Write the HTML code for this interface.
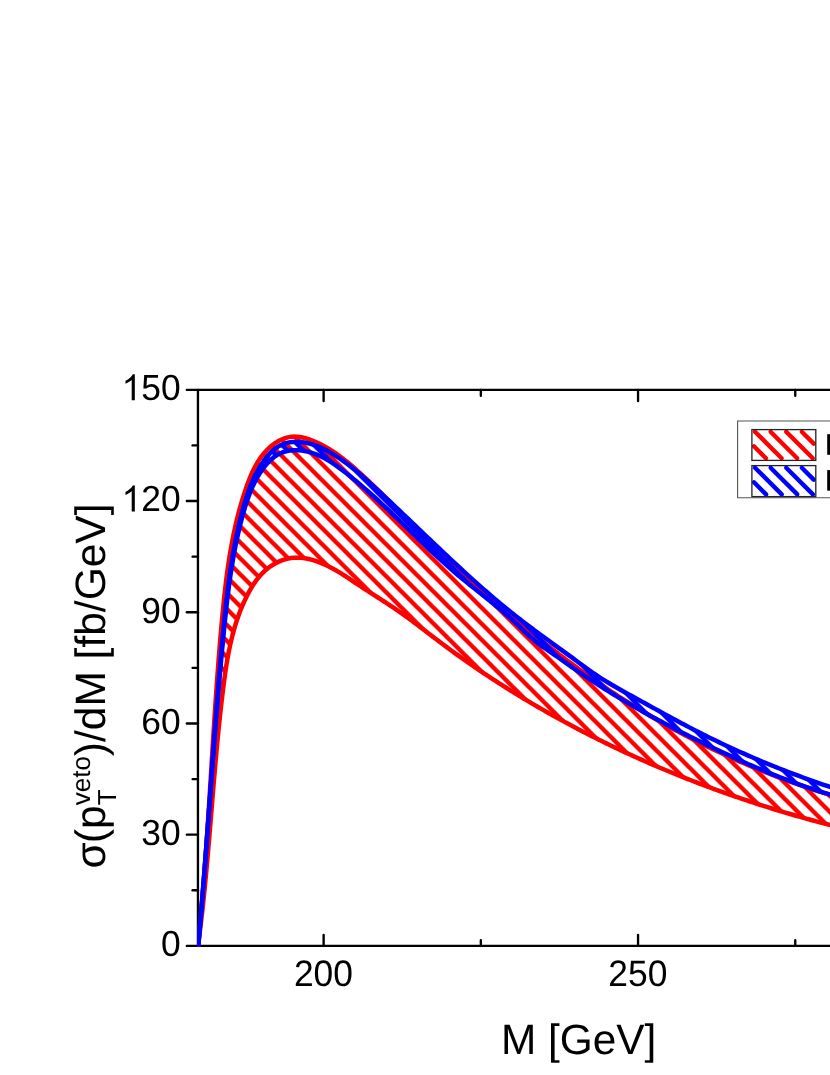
<!DOCTYPE html>
<html><head><meta charset="utf-8"><title>chart</title>
<style>html,body{margin:0;padding:0;background:#fff}body{width:830px;height:1075px;overflow:hidden;position:relative;font-family:"Liberation Sans",sans-serif}</style>
</head><body>
<svg width="830" height="1075" viewBox="0 0 830 1075" style="position:absolute;left:0;top:0;will-change:transform;font-family:'Liberation Sans',sans-serif;font-kerning:none;text-rendering:geometricPrecision">
<defs>
<pattern id="hr" patternUnits="userSpaceOnUse" width="16" height="16" patternTransform="translate(1.90,0)"><path d="M-16,-16 L32,32 M0,-16 L48,32 M-16,0 L32,48 M-32,-16 L16,32" stroke="#ff0000" stroke-width="4.35" fill="none"/></pattern>
<pattern id="hb" patternUnits="userSpaceOnUse" width="16" height="16" patternTransform="translate(-3.10,0)"><path d="M-16,-16 L32,32 M0,-16 L48,32 M-16,0 L32,48 M-32,-16 L16,32" stroke="#0000ff" stroke-width="4.35" fill="none"/></pattern>
<clipPath id="plot"><rect x="197.1" y="380" width="640" height="566.75"/></clipPath>
</defs>
<rect width="830" height="1075" fill="#fff"/>
<g stroke="#000" stroke-width="2.35" stroke-linecap="round" fill="none">
<path d="M197.95,389.85 V945.85 M197.95,389.85 H840 M197.95,945.85 H840"/>
<path d="M186.85,945.90 H197.95"/>
<path d="M186.85,834.68 H197.95"/>
<path d="M186.85,723.46 H197.95"/>
<path d="M186.85,612.24 H197.95"/>
<path d="M186.85,501.02 H197.95"/>
<path d="M186.85,389.80 H197.95"/>
<path d="M192.6,890.29 H197.95"/>
<path d="M192.6,779.07 H197.95"/>
<path d="M192.6,667.85 H197.95"/>
<path d="M192.6,556.63 H197.95"/>
<path d="M192.6,445.41 H197.95"/>
<path d="M323.63,945.85 V934.8 M323.63,389.85 V401.0"/>
<path d="M638.05,945.85 V934.8 M638.05,389.85 V401.0"/>
<path d="M480.84,945.85 V940.2 M480.84,389.85 V395.7"/>
<path d="M795.26,945.85 V940.2 M795.26,389.85 V395.7"/>
</g>
<g clip-path="url(#plot)">
<path d="M197.86,946.36 L198.18,943.34 L198.49,940.31 L198.79,937.28 L199.09,934.25 L199.39,931.22 L199.68,928.18 L199.97,925.15 L200.26,922.12 L200.54,919.09 L200.81,916.06 L201.09,913.02 L201.36,909.99 L201.62,906.96 L201.89,903.92 L202.15,900.89 L202.40,897.85 L202.66,894.82 L202.91,891.78 L203.15,888.75 L203.40,885.71 L203.64,882.67 L203.88,879.64 L204.11,876.60 L204.35,873.56 L204.58,870.52 L204.80,867.49 L205.03,864.45 L205.25,861.41 L205.47,858.37 L205.69,855.33 L205.91,852.29 L206.12,849.25 L206.34,846.21 L206.55,843.17 L206.76,840.13 L206.96,837.09 L207.17,834.05 L207.37,831.01 L207.57,827.97 L207.77,824.93 L207.97,821.89 L208.17,818.85 L208.37,815.81 L208.56,812.77 L208.76,809.72 L208.95,806.68 L209.14,803.64 L209.34,800.60 L209.53,797.56 L209.72,794.51 L209.91,791.47 L210.10,788.43 L210.29,785.39 L210.47,782.35 L210.66,779.30 L210.85,776.26 L211.04,773.22 L211.23,770.18 L211.41,767.13 L211.60,764.09 L211.79,761.05 L211.98,758.01 L212.17,754.97 L212.35,751.92 L212.54,748.88 L212.73,745.84 L212.92,742.80 L213.11,739.75 L213.31,736.71 L213.50,733.67 L213.69,730.63 L213.89,727.59 L214.08,724.55 L214.28,721.50 L214.48,718.46 L214.67,715.42 L214.88,712.38 L215.08,709.34 L215.28,706.30 L215.49,703.26 L215.69,700.22 L215.90,697.18 L216.11,694.14 L216.32,691.10 L216.54,688.06 L216.75,685.02 L216.97,681.98 L217.19,678.94 L217.41,675.90 L217.64,672.86 L217.87,669.82 L218.10,666.79 L218.33,663.75 L218.56,660.71 L218.80,657.67 L219.04,654.64 L219.29,651.60 L219.53,648.56 L219.78,645.53 L220.03,642.49 L220.29,639.46 L220.55,636.42 L220.81,633.39 L221.08,630.35 L221.35,627.32 L221.62,624.28 L221.90,621.25 L222.18,618.22 L222.46,615.18 L222.75,612.15 L223.04,609.12 L223.34,606.09 L223.65,603.06 L223.96,600.03 L224.28,597.00 L224.60,593.98 L224.94,590.95 L225.28,587.93 L225.64,584.91 L226.00,581.88 L226.37,578.87 L226.76,575.85 L227.16,572.83 L227.57,569.82 L227.99,566.81 L228.43,563.80 L228.88,560.79 L229.35,557.79 L229.83,554.79 L230.33,551.79 L230.85,548.80 L231.38,545.80 L231.93,542.81 L232.50,539.83 L233.09,536.84 L233.69,533.87 L234.32,530.89 L234.97,527.92 L235.64,524.95 L236.33,521.98 L237.05,519.02 L237.79,516.07 L238.55,513.12 L239.33,510.17 L240.14,507.23 L240.98,504.29 L241.84,501.35 L242.73,498.42 L243.65,495.50 L244.59,492.58 L245.57,489.67 L246.57,486.76 L247.61,483.86 L248.68,480.97 L249.80,478.11 L250.98,475.27 L252.22,472.46 L253.52,469.69 L254.90,466.97 L256.36,464.30 L257.92,461.69 L259.57,459.14 L261.32,456.66 L263.19,454.26 L265.17,451.94 L267.28,449.71 L269.51,447.58 L271.86,445.57 L274.31,443.71 L276.86,442.02 L279.49,440.52 L282.20,439.23 L284.97,438.17 L287.80,437.37 L290.68,436.84 L293.59,436.62 L296.53,436.67 L299.49,436.98 L302.44,437.52 L305.39,438.25 L308.33,439.15 L311.23,440.18 L314.09,441.32 L316.91,442.55 L319.68,443.85 L322.41,445.23 L325.09,446.69 L327.73,448.21 L330.34,449.79 L332.90,451.44 L335.44,453.14 L337.94,454.90 L340.40,456.70 L342.84,458.55 L345.25,460.43 L347.64,462.36 L350.00,464.32 L352.33,466.30 L354.65,468.31 L356.95,470.34 L359.23,472.39 L361.50,474.45 L363.75,476.53 L365.99,478.61 L368.22,480.71 L370.43,482.81 L372.64,484.92 L374.83,487.04 L377.02,489.17 L379.19,491.31 L381.36,493.45 L383.52,495.60 L385.67,497.76 L387.81,499.92 L389.95,502.08 L392.08,504.25 L394.21,506.42 L396.34,508.60 L398.46,510.78 L400.57,512.96 L402.69,515.14 L404.81,517.32 L406.92,519.50 L409.03,521.68 L411.15,523.86 L413.27,526.04 L415.38,528.22 L417.50,530.40 L419.63,532.57 L421.76,534.74 L423.89,536.90 L426.02,539.06 L428.17,541.21 L430.32,543.36 L432.47,545.50 L434.64,547.64 L436.81,549.77 L438.99,551.89 L441.18,554.00 L443.38,556.11 L445.59,558.21 L447.80,560.30 L450.02,562.38 L452.25,564.46 L454.48,566.53 L456.72,568.60 L458.97,570.66 L461.22,572.71 L463.48,574.76 L465.75,576.81 L468.02,578.84 L470.30,580.87 L472.58,582.90 L474.87,584.92 L477.16,586.94 L479.45,588.95 L481.75,590.96 L484.05,592.96 L486.36,594.96 L488.67,596.95 L490.99,598.94 L493.30,600.93 L495.62,602.91 L497.95,604.89 L500.27,606.86 L502.60,608.84 L504.93,610.80 L507.26,612.77 L509.60,614.72 L511.94,616.68 L514.29,618.63 L516.63,620.58 L518.98,622.52 L521.34,624.45 L523.69,626.38 L526.06,628.31 L528.42,630.23 L530.79,632.15 L533.16,634.06 L535.54,635.97 L537.92,637.87 L540.30,639.76 L542.69,641.65 L545.08,643.53 L547.48,645.41 L549.88,647.28 L552.29,649.14 L554.70,651.00 L557.11,652.85 L559.53,654.70 L561.95,656.54 L564.38,658.37 L566.82,660.20 L569.26,662.02 L571.70,663.83 L574.15,665.63 L576.60,667.43 L579.06,669.22 L581.53,671.00 L584.00,672.78 L586.47,674.54 L588.96,676.30 L591.44,678.05 L593.93,679.80 L596.43,681.53 L598.94,683.26 L601.45,684.98 L603.96,686.69 L606.49,688.39 L609.02,690.08 L611.55,691.77 L614.09,693.44 L616.64,695.11 L619.19,696.77 L621.75,698.41 L624.32,700.05 L626.89,701.68 L629.47,703.30 L632.06,704.92 L634.65,706.52 L637.25,708.11 L639.85,709.69 L642.46,711.27 L645.08,712.83 L647.70,714.39 L650.33,715.94 L652.96,717.47 L655.60,719.00 L658.24,720.52 L660.89,722.03 L663.55,723.53 L666.21,725.02 L668.88,726.50 L671.55,727.97 L674.23,729.43 L676.91,730.88 L679.60,732.33 L682.29,733.76 L684.99,735.18 L687.69,736.59 L690.40,738.00 L693.12,739.39 L695.84,740.78 L698.56,742.15 L701.29,743.51 L704.02,744.87 L706.76,746.21 L709.51,747.55 L712.25,748.87 L715.01,750.19 L717.76,751.49 L720.53,752.79 L723.29,754.07 L726.06,755.35 L728.84,756.61 L731.62,757.87 L734.41,759.11 L737.19,760.35 L739.99,761.57 L742.78,762.78 L745.59,763.99 L748.39,765.18 L751.20,766.37 L754.01,767.54 L756.83,768.70 L759.65,769.86 L762.48,771.00 L765.31,772.13 L768.14,773.25 L770.98,774.36 L773.82,775.46 L776.66,776.55 L779.51,777.63 L782.36,778.70 L785.22,779.76 L788.07,780.81 L790.94,781.85 L793.80,782.87 L796.67,783.89 L799.54,784.90 L802.42,785.89 L805.29,786.87 L808.17,787.85 L811.06,788.81 L813.95,789.76 L816.84,790.70 L819.73,791.63 L822.62,792.55 L825.52,793.46 L828.42,794.36 L831.33,795.25 L834.24,796.12 L837.15,796.99 L840.06,797.84 L842.97,798.68 L845.89,799.52 L848.81,800.34 L851.73,801.15 L854.65,801.94 L849.98,829.99 L847.44,829.38 L844.90,828.76 L842.37,828.13 L839.83,827.50 L837.30,826.86 L834.76,826.22 L832.23,825.57 L829.70,824.92 L827.17,824.26 L824.64,823.60 L822.11,822.93 L819.58,822.26 L817.06,821.58 L814.53,820.90 L812.01,820.21 L809.49,819.52 L806.97,818.82 L804.45,818.12 L801.93,817.41 L799.41,816.69 L796.90,815.97 L794.39,815.25 L791.87,814.52 L789.36,813.78 L786.85,813.04 L784.34,812.30 L781.84,811.55 L779.33,810.79 L776.83,810.03 L774.33,809.26 L771.82,808.49 L769.33,807.71 L766.83,806.93 L764.33,806.14 L761.84,805.35 L759.34,804.55 L756.85,803.75 L754.36,802.94 L751.88,802.12 L749.39,801.31 L746.91,800.48 L744.42,799.65 L741.94,798.81 L739.46,797.97 L736.99,797.13 L734.51,796.28 L732.04,795.42 L729.56,794.56 L727.09,793.69 L724.63,792.82 L722.16,791.94 L719.69,791.05 L717.23,790.16 L714.77,789.27 L712.31,788.37 L709.86,787.46 L707.40,786.55 L704.95,785.64 L702.50,784.72 L700.05,783.79 L697.60,782.86 L695.16,781.92 L692.72,780.98 L690.28,780.03 L687.84,779.07 L685.40,778.11 L682.97,777.15 L680.54,776.18 L678.11,775.20 L675.68,774.22 L673.26,773.24 L670.84,772.24 L668.42,771.25 L666.00,770.24 L663.58,769.23 L661.17,768.22 L658.76,767.20 L656.35,766.17 L653.95,765.14 L651.54,764.11 L649.14,763.07 L646.74,762.02 L644.35,760.97 L641.95,759.91 L639.56,758.84 L637.17,757.77 L634.79,756.70 L632.40,755.62 L630.02,754.53 L627.65,753.44 L625.27,752.34 L622.90,751.24 L620.53,750.13 L618.16,749.02 L615.79,747.90 L613.43,746.78 L611.07,745.65 L608.72,744.51 L606.36,743.37 L604.01,742.22 L601.66,741.07 L599.32,739.91 L596.97,738.74 L594.63,737.57 L592.30,736.40 L589.96,735.22 L587.63,734.03 L585.30,732.84 L582.98,731.64 L580.66,730.44 L578.34,729.23 L576.02,728.01 L573.71,726.79 L571.40,725.57 L569.09,724.33 L566.79,723.10 L564.48,721.85 L562.19,720.60 L559.89,719.35 L557.60,718.09 L555.31,716.82 L553.03,715.55 L550.74,714.27 L548.47,712.99 L546.19,711.70 L543.92,710.40 L541.65,709.10 L539.38,707.80 L537.12,706.49 L534.86,705.17 L532.61,703.84 L530.35,702.51 L528.10,701.18 L525.86,699.84 L523.62,698.49 L521.38,697.14 L519.14,695.78 L516.91,694.42 L514.68,693.05 L512.46,691.67 L510.24,690.29 L508.02,688.90 L505.80,687.51 L503.59,686.11 L501.39,684.71 L499.18,683.30 L496.98,681.88 L494.79,680.46 L492.59,679.03 L490.41,677.59 L488.22,676.15 L486.04,674.71 L483.86,673.26 L481.69,671.80 L479.52,670.34 L477.35,668.87 L475.19,667.39 L473.03,665.91 L470.88,664.42 L468.72,662.93 L466.58,661.43 L464.43,659.93 L462.30,658.42 L460.16,656.90 L458.03,655.38 L455.90,653.85 L453.78,652.32 L451.66,650.78 L449.54,649.23 L447.43,647.68 L445.33,646.12 L443.22,644.56 L441.13,642.99 L439.03,641.41 L436.94,639.83 L434.85,638.25 L432.77,636.66 L430.68,635.06 L428.60,633.47 L426.52,631.88 L424.44,630.29 L422.36,628.70 L420.27,627.11 L418.19,625.53 L416.10,623.95 L414.01,622.38 L411.91,620.81 L409.81,619.26 L407.70,617.71 L405.59,616.17 L403.47,614.65 L401.35,613.13 L399.22,611.63 L397.08,610.15 L394.92,608.68 L392.77,607.22 L390.60,605.77 L388.43,604.34 L386.25,602.91 L384.07,601.49 L381.89,600.08 L379.70,598.67 L377.51,597.26 L375.31,595.86 L373.12,594.45 L370.93,593.04 L368.74,591.64 L366.55,590.22 L364.36,588.80 L362.18,587.37 L360.00,585.94 L357.83,584.49 L355.66,583.03 L353.49,581.57 L351.31,580.11 L349.14,578.65 L346.95,577.20 L344.75,575.76 L342.54,574.34 L340.30,572.94 L338.05,571.57 L335.77,570.23 L333.45,568.92 L331.11,567.65 L328.73,566.43 L326.31,565.25 L323.86,564.13 L321.38,563.08 L318.87,562.09 L316.34,561.18 L313.80,560.36 L311.24,559.63 L308.67,559.00 L306.10,558.48 L303.53,558.08 L300.96,557.80 L298.41,557.65 L295.86,557.63 L293.34,557.77 L290.83,558.05 L288.36,558.49 L285.91,559.07 L283.50,559.79 L281.12,560.64 L278.79,561.62 L276.50,562.73 L274.26,563.96 L272.07,565.30 L269.94,566.75 L267.87,568.30 L265.87,569.95 L263.93,571.70 L262.07,573.53 L260.28,575.45 L258.56,577.45 L256.93,579.52 L255.37,581.65 L253.87,583.84 L252.43,586.07 L251.05,588.35 L249.73,590.66 L248.45,592.99 L247.22,595.34 L246.03,597.71 L244.88,600.10 L243.77,602.50 L242.71,604.91 L241.68,607.34 L240.69,609.78 L239.74,612.23 L238.82,614.69 L237.94,617.16 L237.09,619.64 L236.27,622.12 L235.49,624.61 L234.73,627.11 L234.01,629.62 L233.31,632.13 L232.64,634.65 L232.00,637.18 L231.38,639.71 L230.79,642.24 L230.22,644.78 L229.67,647.33 L229.15,649.88 L228.64,652.44 L228.15,655.00 L227.69,657.56 L227.24,660.13 L226.80,662.70 L226.38,665.27 L225.98,667.85 L225.59,670.43 L225.21,673.01 L224.84,675.60 L224.49,678.19 L224.14,680.78 L223.80,683.37 L223.47,685.96 L223.14,688.55 L222.82,691.15 L222.50,693.74 L222.19,696.34 L221.88,698.93 L221.58,701.53 L221.28,704.13 L220.99,706.72 L220.70,709.32 L220.41,711.92 L220.13,714.52 L219.85,717.12 L219.57,719.72 L219.30,722.32 L219.03,724.92 L218.77,727.53 L218.51,730.13 L218.25,732.73 L217.99,735.34 L217.74,737.94 L217.49,740.55 L217.24,743.15 L217.00,745.76 L216.75,748.36 L216.51,750.97 L216.28,753.57 L216.04,756.18 L215.81,758.79 L215.58,761.40 L215.35,764.00 L215.12,766.61 L214.89,769.22 L214.67,771.83 L214.44,774.44 L214.22,777.05 L214.00,779.66 L213.78,782.26 L213.57,784.87 L213.35,787.48 L213.13,790.09 L212.92,792.70 L212.70,795.31 L212.49,797.92 L212.27,800.53 L212.06,803.14 L211.85,805.76 L211.64,808.37 L211.42,810.98 L211.21,813.59 L211.00,816.20 L210.78,818.81 L210.57,821.42 L210.36,824.03 L210.14,826.64 L209.93,829.25 L209.71,831.86 L209.49,834.47 L209.28,837.08 L209.06,839.69 L208.84,842.30 L208.62,844.91 L208.39,847.52 L208.17,850.12 L207.95,852.73 L207.72,855.34 L207.49,857.95 L207.26,860.56 L207.03,863.16 L206.79,865.77 L206.55,868.38 L206.32,870.99 L206.07,873.59 L205.83,876.20 L205.58,878.80 L205.33,881.41 L205.08,884.01 L204.83,886.62 L204.57,889.22 L204.31,891.83 L204.05,894.43 L203.78,897.03 L203.51,899.63 L203.23,902.23 L202.96,904.84 L202.67,907.44 L202.39,910.04 L202.10,912.63 L201.81,915.23 L201.51,917.83 L201.21,920.43 L200.90,923.03 L200.59,925.62 L200.28,928.22 L199.96,930.81 L199.64,933.41 L199.31,936.00 L198.98,938.59 L198.64,941.19 L198.29,943.78 L197.95,946.37 Z" fill="url(#hr)"/>
<path d="M197.86,946.36 L198.18,943.34 L198.49,940.31 L198.79,937.28 L199.09,934.25 L199.39,931.22 L199.68,928.18 L199.97,925.15 L200.26,922.12 L200.54,919.09 L200.81,916.06 L201.09,913.02 L201.36,909.99 L201.62,906.96 L201.89,903.92 L202.15,900.89 L202.40,897.85 L202.66,894.82 L202.91,891.78 L203.15,888.75 L203.40,885.71 L203.64,882.67 L203.88,879.64 L204.11,876.60 L204.35,873.56 L204.58,870.52 L204.80,867.49 L205.03,864.45 L205.25,861.41 L205.47,858.37 L205.69,855.33 L205.91,852.29 L206.12,849.25 L206.34,846.21 L206.55,843.17 L206.76,840.13 L206.96,837.09 L207.17,834.05 L207.37,831.01 L207.57,827.97 L207.77,824.93 L207.97,821.89 L208.17,818.85 L208.37,815.81 L208.56,812.77 L208.76,809.72 L208.95,806.68 L209.14,803.64 L209.34,800.60 L209.53,797.56 L209.72,794.51 L209.91,791.47 L210.10,788.43 L210.29,785.39 L210.47,782.35 L210.66,779.30 L210.85,776.26 L211.04,773.22 L211.23,770.18 L211.41,767.13 L211.60,764.09 L211.79,761.05 L211.98,758.01 L212.17,754.97 L212.35,751.92 L212.54,748.88 L212.73,745.84 L212.92,742.80 L213.11,739.75 L213.31,736.71 L213.50,733.67 L213.69,730.63 L213.89,727.59 L214.08,724.55 L214.28,721.50 L214.48,718.46 L214.67,715.42 L214.88,712.38 L215.08,709.34 L215.28,706.30 L215.49,703.26 L215.69,700.22 L215.90,697.18 L216.11,694.14 L216.32,691.10 L216.54,688.06 L216.75,685.02 L216.97,681.98 L217.19,678.94 L217.41,675.90 L217.64,672.86 L217.87,669.82 L218.10,666.79 L218.33,663.75 L218.56,660.71 L218.80,657.67 L219.04,654.64 L219.29,651.60 L219.53,648.56 L219.78,645.53 L220.03,642.49 L220.29,639.46 L220.55,636.42 L220.81,633.39 L221.08,630.35 L221.35,627.32 L221.62,624.28 L221.90,621.25 L222.18,618.22 L222.46,615.18 L222.75,612.15 L223.04,609.12 L223.34,606.09 L223.65,603.06 L223.96,600.03 L224.28,597.00 L224.60,593.98 L224.94,590.95 L225.28,587.93 L225.64,584.91 L226.00,581.88 L226.37,578.87 L226.76,575.85 L227.16,572.83 L227.57,569.82 L227.99,566.81 L228.43,563.80 L228.88,560.79 L229.35,557.79 L229.83,554.79 L230.33,551.79 L230.85,548.80 L231.38,545.80 L231.93,542.81 L232.50,539.83 L233.09,536.84 L233.69,533.87 L234.32,530.89 L234.97,527.92 L235.64,524.95 L236.33,521.98 L237.05,519.02 L237.79,516.07 L238.55,513.12 L239.33,510.17 L240.14,507.23 L240.98,504.29 L241.84,501.35 L242.73,498.42 L243.65,495.50 L244.59,492.58 L245.57,489.67 L246.57,486.76 L247.61,483.86 L248.68,480.97 L249.80,478.11 L250.98,475.27 L252.22,472.46 L253.52,469.69 L254.90,466.97 L256.36,464.30 L257.92,461.69 L259.57,459.14 L261.32,456.66 L263.19,454.26 L265.17,451.94 L267.28,449.71 L269.51,447.58 L271.86,445.57 L274.31,443.71 L276.86,442.02 L279.49,440.52 L282.20,439.23 L284.97,438.17 L287.80,437.37 L290.68,436.84 L293.59,436.62 L296.53,436.67 L299.49,436.98 L302.44,437.52 L305.39,438.25 L308.33,439.15 L311.23,440.18 L314.09,441.32 L316.91,442.55 L319.68,443.85 L322.41,445.23 L325.09,446.69 L327.73,448.21 L330.34,449.79 L332.90,451.44 L335.44,453.14 L337.94,454.90 L340.40,456.70 L342.84,458.55 L345.25,460.43 L347.64,462.36 L350.00,464.32 L352.33,466.30 L354.65,468.31 L356.95,470.34 L359.23,472.39 L361.50,474.45 L363.75,476.53 L365.99,478.61 L368.22,480.71 L370.43,482.81 L372.64,484.92 L374.83,487.04 L377.02,489.17 L379.19,491.31 L381.36,493.45 L383.52,495.60 L385.67,497.76 L387.81,499.92 L389.95,502.08 L392.08,504.25 L394.21,506.42 L396.34,508.60 L398.46,510.78 L400.57,512.96 L402.69,515.14 L404.81,517.32 L406.92,519.50 L409.03,521.68 L411.15,523.86 L413.27,526.04 L415.38,528.22 L417.50,530.40 L419.63,532.57 L421.76,534.74 L423.89,536.90 L426.02,539.06 L428.17,541.21 L430.32,543.36 L432.47,545.50 L434.64,547.64 L436.81,549.77 L438.99,551.89 L441.18,554.00 L443.38,556.11 L445.59,558.21 L447.80,560.30 L450.02,562.38 L452.25,564.46 L454.48,566.53 L456.72,568.60 L458.97,570.66 L461.22,572.71 L463.48,574.76 L465.75,576.81 L468.02,578.84 L470.30,580.87 L472.58,582.90 L474.87,584.92 L477.16,586.94 L479.45,588.95 L481.75,590.96 L484.05,592.96 L486.36,594.96 L488.67,596.95 L490.99,598.94 L493.30,600.93 L495.62,602.91 L497.95,604.89 L500.27,606.86 L502.60,608.84 L504.93,610.80 L507.26,612.77 L509.60,614.72 L511.94,616.68 L514.29,618.63 L516.63,620.58 L518.98,622.52 L521.34,624.45 L523.69,626.38 L526.06,628.31 L528.42,630.23 L530.79,632.15 L533.16,634.06 L535.54,635.97 L537.92,637.87 L540.30,639.76 L542.69,641.65 L545.08,643.53 L547.48,645.41 L549.88,647.28 L552.29,649.14 L554.70,651.00 L557.11,652.85 L559.53,654.70 L561.95,656.54 L564.38,658.37 L566.82,660.20 L569.26,662.02 L571.70,663.83 L574.15,665.63 L576.60,667.43 L579.06,669.22 L581.53,671.00 L584.00,672.78 L586.47,674.54 L588.96,676.30 L591.44,678.05 L593.93,679.80 L596.43,681.53 L598.94,683.26 L601.45,684.98 L603.96,686.69 L606.49,688.39 L609.02,690.08 L611.55,691.77 L614.09,693.44 L616.64,695.11 L619.19,696.77 L621.75,698.41 L624.32,700.05 L626.89,701.68 L629.47,703.30 L632.06,704.92 L634.65,706.52 L637.25,708.11 L639.85,709.69 L642.46,711.27 L645.08,712.83 L647.70,714.39 L650.33,715.94 L652.96,717.47 L655.60,719.00 L658.24,720.52 L660.89,722.03 L663.55,723.53 L666.21,725.02 L668.88,726.50 L671.55,727.97 L674.23,729.43 L676.91,730.88 L679.60,732.33 L682.29,733.76 L684.99,735.18 L687.69,736.59 L690.40,738.00 L693.12,739.39 L695.84,740.78 L698.56,742.15 L701.29,743.51 L704.02,744.87 L706.76,746.21 L709.51,747.55 L712.25,748.87 L715.01,750.19 L717.76,751.49 L720.53,752.79 L723.29,754.07 L726.06,755.35 L728.84,756.61 L731.62,757.87 L734.41,759.11 L737.19,760.35 L739.99,761.57 L742.78,762.78 L745.59,763.99 L748.39,765.18 L751.20,766.37 L754.01,767.54 L756.83,768.70 L759.65,769.86 L762.48,771.00 L765.31,772.13 L768.14,773.25 L770.98,774.36 L773.82,775.46 L776.66,776.55 L779.51,777.63 L782.36,778.70 L785.22,779.76 L788.07,780.81 L790.94,781.85 L793.80,782.87 L796.67,783.89 L799.54,784.90 L802.42,785.89 L805.29,786.87 L808.17,787.85 L811.06,788.81 L813.95,789.76 L816.84,790.70 L819.73,791.63 L822.62,792.55 L825.52,793.46 L828.42,794.36 L831.33,795.25 L834.24,796.12 L837.15,796.99 L840.06,797.84 L842.97,798.68 L845.89,799.52 L848.81,800.34 L851.73,801.15 L854.65,801.94" fill="none" stroke="#ff0000" stroke-width="4.5" stroke-linejoin="round"/>
<path d="M197.95,946.37 L198.29,943.78 L198.64,941.19 L198.98,938.59 L199.31,936.00 L199.64,933.41 L199.96,930.81 L200.28,928.22 L200.59,925.62 L200.90,923.03 L201.21,920.43 L201.51,917.83 L201.81,915.23 L202.10,912.63 L202.39,910.04 L202.67,907.44 L202.96,904.84 L203.23,902.23 L203.51,899.63 L203.78,897.03 L204.05,894.43 L204.31,891.83 L204.57,889.22 L204.83,886.62 L205.08,884.01 L205.33,881.41 L205.58,878.80 L205.83,876.20 L206.07,873.59 L206.32,870.99 L206.55,868.38 L206.79,865.77 L207.03,863.16 L207.26,860.56 L207.49,857.95 L207.72,855.34 L207.95,852.73 L208.17,850.12 L208.39,847.52 L208.62,844.91 L208.84,842.30 L209.06,839.69 L209.28,837.08 L209.49,834.47 L209.71,831.86 L209.93,829.25 L210.14,826.64 L210.36,824.03 L210.57,821.42 L210.78,818.81 L211.00,816.20 L211.21,813.59 L211.42,810.98 L211.64,808.37 L211.85,805.76 L212.06,803.14 L212.27,800.53 L212.49,797.92 L212.70,795.31 L212.92,792.70 L213.13,790.09 L213.35,787.48 L213.57,784.87 L213.78,782.26 L214.00,779.66 L214.22,777.05 L214.44,774.44 L214.67,771.83 L214.89,769.22 L215.12,766.61 L215.35,764.00 L215.58,761.40 L215.81,758.79 L216.04,756.18 L216.28,753.57 L216.51,750.97 L216.75,748.36 L217.00,745.76 L217.24,743.15 L217.49,740.55 L217.74,737.94 L217.99,735.34 L218.25,732.73 L218.51,730.13 L218.77,727.53 L219.03,724.92 L219.30,722.32 L219.57,719.72 L219.85,717.12 L220.13,714.52 L220.41,711.92 L220.70,709.32 L220.99,706.72 L221.28,704.13 L221.58,701.53 L221.88,698.93 L222.19,696.34 L222.50,693.74 L222.82,691.15 L223.14,688.55 L223.47,685.96 L223.80,683.37 L224.14,680.78 L224.49,678.19 L224.84,675.60 L225.21,673.01 L225.59,670.43 L225.98,667.85 L226.38,665.27 L226.80,662.70 L227.24,660.13 L227.69,657.56 L228.15,655.00 L228.64,652.44 L229.15,649.88 L229.67,647.33 L230.22,644.78 L230.79,642.24 L231.38,639.71 L232.00,637.18 L232.64,634.65 L233.31,632.13 L234.01,629.62 L234.73,627.11 L235.49,624.61 L236.27,622.12 L237.09,619.64 L237.94,617.16 L238.82,614.69 L239.74,612.23 L240.69,609.78 L241.68,607.34 L242.71,604.91 L243.77,602.50 L244.88,600.10 L246.03,597.71 L247.22,595.34 L248.45,592.99 L249.73,590.66 L251.05,588.35 L252.43,586.07 L253.87,583.84 L255.37,581.65 L256.93,579.52 L258.56,577.45 L260.28,575.45 L262.07,573.53 L263.93,571.70 L265.87,569.95 L267.87,568.30 L269.94,566.75 L272.07,565.30 L274.26,563.96 L276.50,562.73 L278.79,561.62 L281.12,560.64 L283.50,559.79 L285.91,559.07 L288.36,558.49 L290.83,558.05 L293.34,557.77 L295.86,557.63 L298.41,557.65 L300.96,557.80 L303.53,558.08 L306.10,558.48 L308.67,559.00 L311.24,559.63 L313.80,560.36 L316.34,561.18 L318.87,562.09 L321.38,563.08 L323.86,564.13 L326.31,565.25 L328.73,566.43 L331.11,567.65 L333.45,568.92 L335.77,570.23 L338.05,571.57 L340.30,572.94 L342.54,574.34 L344.75,575.76 L346.95,577.20 L349.14,578.65 L351.31,580.11 L353.49,581.57 L355.66,583.03 L357.83,584.49 L360.00,585.94 L362.18,587.37 L364.36,588.80 L366.55,590.22 L368.74,591.64 L370.93,593.04 L373.12,594.45 L375.31,595.86 L377.51,597.26 L379.70,598.67 L381.89,600.08 L384.07,601.49 L386.25,602.91 L388.43,604.34 L390.60,605.77 L392.77,607.22 L394.92,608.68 L397.08,610.15 L399.22,611.63 L401.35,613.13 L403.47,614.65 L405.59,616.17 L407.70,617.71 L409.81,619.26 L411.91,620.81 L414.01,622.38 L416.10,623.95 L418.19,625.53 L420.27,627.11 L422.36,628.70 L424.44,630.29 L426.52,631.88 L428.60,633.47 L430.68,635.06 L432.77,636.66 L434.85,638.25 L436.94,639.83 L439.03,641.41 L441.13,642.99 L443.22,644.56 L445.33,646.12 L447.43,647.68 L449.54,649.23 L451.66,650.78 L453.78,652.32 L455.90,653.85 L458.03,655.38 L460.16,656.90 L462.30,658.42 L464.43,659.93 L466.58,661.43 L468.72,662.93 L470.88,664.42 L473.03,665.91 L475.19,667.39 L477.35,668.87 L479.52,670.34 L481.69,671.80 L483.86,673.26 L486.04,674.71 L488.22,676.15 L490.41,677.59 L492.59,679.03 L494.79,680.46 L496.98,681.88 L499.18,683.30 L501.39,684.71 L503.59,686.11 L505.80,687.51 L508.02,688.90 L510.24,690.29 L512.46,691.67 L514.68,693.05 L516.91,694.42 L519.14,695.78 L521.38,697.14 L523.62,698.49 L525.86,699.84 L528.10,701.18 L530.35,702.51 L532.61,703.84 L534.86,705.17 L537.12,706.49 L539.38,707.80 L541.65,709.10 L543.92,710.40 L546.19,711.70 L548.47,712.99 L550.74,714.27 L553.03,715.55 L555.31,716.82 L557.60,718.09 L559.89,719.35 L562.19,720.60 L564.48,721.85 L566.79,723.10 L569.09,724.33 L571.40,725.57 L573.71,726.79 L576.02,728.01 L578.34,729.23 L580.66,730.44 L582.98,731.64 L585.30,732.84 L587.63,734.03 L589.96,735.22 L592.30,736.40 L594.63,737.57 L596.97,738.74 L599.32,739.91 L601.66,741.07 L604.01,742.22 L606.36,743.37 L608.72,744.51 L611.07,745.65 L613.43,746.78 L615.79,747.90 L618.16,749.02 L620.53,750.13 L622.90,751.24 L625.27,752.34 L627.65,753.44 L630.02,754.53 L632.40,755.62 L634.79,756.70 L637.17,757.77 L639.56,758.84 L641.95,759.91 L644.35,760.97 L646.74,762.02 L649.14,763.07 L651.54,764.11 L653.95,765.14 L656.35,766.17 L658.76,767.20 L661.17,768.22 L663.58,769.23 L666.00,770.24 L668.42,771.25 L670.84,772.24 L673.26,773.24 L675.68,774.22 L678.11,775.20 L680.54,776.18 L682.97,777.15 L685.40,778.11 L687.84,779.07 L690.28,780.03 L692.72,780.98 L695.16,781.92 L697.60,782.86 L700.05,783.79 L702.50,784.72 L704.95,785.64 L707.40,786.55 L709.86,787.46 L712.31,788.37 L714.77,789.27 L717.23,790.16 L719.69,791.05 L722.16,791.94 L724.63,792.82 L727.09,793.69 L729.56,794.56 L732.04,795.42 L734.51,796.28 L736.99,797.13 L739.46,797.97 L741.94,798.81 L744.42,799.65 L746.91,800.48 L749.39,801.31 L751.88,802.12 L754.36,802.94 L756.85,803.75 L759.34,804.55 L761.84,805.35 L764.33,806.14 L766.83,806.93 L769.33,807.71 L771.82,808.49 L774.33,809.26 L776.83,810.03 L779.33,810.79 L781.84,811.55 L784.34,812.30 L786.85,813.04 L789.36,813.78 L791.87,814.52 L794.39,815.25 L796.90,815.97 L799.41,816.69 L801.93,817.41 L804.45,818.12 L806.97,818.82 L809.49,819.52 L812.01,820.21 L814.53,820.90 L817.06,821.58 L819.58,822.26 L822.11,822.93 L824.64,823.60 L827.17,824.26 L829.70,824.92 L832.23,825.57 L834.76,826.22 L837.30,826.86 L839.83,827.50 L842.37,828.13 L844.90,828.76 L847.44,829.38 L849.98,829.99" fill="none" stroke="#ff0000" stroke-width="4.5" stroke-linejoin="round"/>
<path d="M198.15,946.41 L198.42,943.42 L198.70,940.43 L198.97,937.45 L199.24,934.46 L199.50,931.47 L199.77,928.48 L200.03,925.49 L200.29,922.50 L200.55,919.51 L200.80,916.52 L201.06,913.53 L201.31,910.54 L201.56,907.55 L201.81,904.56 L202.06,901.57 L202.30,898.58 L202.55,895.59 L202.79,892.61 L203.03,889.62 L203.27,886.63 L203.51,883.64 L203.75,880.64 L203.98,877.65 L204.22,874.66 L204.45,871.67 L204.68,868.68 L204.91,865.69 L205.14,862.70 L205.37,859.71 L205.60,856.72 L205.82,853.73 L206.05,850.74 L206.27,847.75 L206.50,844.76 L206.72,841.77 L206.94,838.78 L207.16,835.79 L207.38,832.80 L207.60,829.81 L207.82,826.81 L208.04,823.82 L208.26,820.83 L208.48,817.84 L208.70,814.85 L208.91,811.86 L209.13,808.87 L209.35,805.88 L209.57,802.89 L209.78,799.90 L210.00,796.90 L210.22,793.91 L210.43,790.92 L210.65,787.93 L210.87,784.94 L211.08,781.95 L211.30,778.96 L211.52,775.97 L211.74,772.98 L211.95,769.99 L212.17,767.00 L212.39,764.00 L212.61,761.01 L212.83,758.02 L213.05,755.03 L213.27,752.04 L213.49,749.05 L213.72,746.06 L213.94,743.07 L214.16,740.08 L214.39,737.09 L214.61,734.10 L214.84,731.11 L215.07,728.12 L215.29,725.13 L215.52,722.14 L215.75,719.15 L215.99,716.16 L216.22,713.16 L216.45,710.17 L216.69,707.18 L216.93,704.19 L217.16,701.20 L217.40,698.21 L217.65,695.23 L217.89,692.24 L218.13,689.25 L218.38,686.26 L218.63,683.27 L218.88,680.28 L219.13,677.29 L219.38,674.30 L219.63,671.31 L219.89,668.32 L220.15,665.33 L220.41,662.34 L220.67,659.35 L220.94,656.37 L221.21,653.38 L221.47,650.39 L221.75,647.40 L222.02,644.41 L222.29,641.42 L222.57,638.44 L222.85,635.45 L223.14,632.46 L223.42,629.47 L223.71,626.48 L224.01,623.50 L224.30,620.51 L224.61,617.53 L224.92,614.54 L225.23,611.56 L225.55,608.57 L225.88,605.59 L226.21,602.61 L226.55,599.63 L226.90,596.65 L227.25,593.67 L227.62,590.70 L227.99,587.72 L228.38,584.75 L228.77,581.78 L229.18,578.81 L229.59,575.84 L230.02,572.87 L230.46,569.91 L230.91,566.95 L231.37,563.99 L231.85,561.03 L232.34,558.08 L232.84,555.12 L233.36,552.17 L233.90,549.23 L234.44,546.28 L235.01,543.34 L235.59,540.40 L236.19,537.47 L236.80,534.53 L237.43,531.61 L238.08,528.68 L238.75,525.76 L239.43,522.84 L240.14,519.92 L240.87,517.01 L241.61,514.10 L242.38,511.20 L243.17,508.30 L243.98,505.41 L244.82,502.52 L245.70,499.65 L246.61,496.79 L247.56,493.94 L248.55,491.11 L249.60,488.30 L250.69,485.51 L251.83,482.74 L253.03,480.00 L254.30,477.29 L255.62,474.60 L257.02,471.94 L258.49,469.32 L260.03,466.73 L261.65,464.18 L263.35,461.66 L265.14,459.19 L267.01,456.78 L268.99,454.44 L271.06,452.23 L273.25,450.17 L275.56,448.29 L277.99,446.63 L280.55,445.22 L283.24,444.08 L286.03,443.18 L288.91,442.53 L291.84,442.10 L294.82,441.89 L297.81,441.88 L300.80,442.06 L303.76,442.41 L306.69,442.94 L309.59,443.61 L312.46,444.43 L315.30,445.39 L318.10,446.46 L320.87,447.65 L323.60,448.95 L326.31,450.33 L328.97,451.79 L331.60,453.32 L334.19,454.91 L336.75,456.55 L339.27,458.23 L341.76,459.94 L344.21,461.69 L346.63,463.47 L349.02,465.28 L351.39,467.12 L353.73,468.98 L356.04,470.87 L358.34,472.79 L360.61,474.72 L362.87,476.67 L365.11,478.64 L367.34,480.63 L369.56,482.62 L371.77,484.63 L373.96,486.65 L376.16,488.68 L378.35,490.71 L380.53,492.75 L382.72,494.79 L384.90,496.83 L387.08,498.88 L389.26,500.93 L391.43,502.98 L393.61,505.04 L395.78,507.10 L397.95,509.16 L400.13,511.23 L402.30,513.29 L404.47,515.36 L406.64,517.43 L408.81,519.50 L410.97,521.57 L413.14,523.64 L415.31,525.71 L417.48,527.79 L419.65,529.86 L421.82,531.93 L423.99,534.01 L426.16,536.08 L428.33,538.15 L430.51,540.22 L432.68,542.29 L434.86,544.36 L437.04,546.43 L439.22,548.49 L441.40,550.56 L443.58,552.62 L445.77,554.68 L447.96,556.73 L450.15,558.79 L452.34,560.84 L454.54,562.88 L456.74,564.93 L458.94,566.96 L461.15,569.00 L463.35,571.03 L465.57,573.06 L467.78,575.08 L470.01,577.10 L472.23,579.11 L474.46,581.11 L476.70,583.11 L478.94,585.11 L481.18,587.10 L483.43,589.08 L485.69,591.05 L487.95,593.02 L490.22,594.98 L492.50,596.93 L494.78,598.87 L497.06,600.80 L499.36,602.73 L501.66,604.65 L503.97,606.56 L506.29,608.45 L508.61,610.34 L510.94,612.22 L513.28,614.09 L515.63,615.95 L517.99,617.79 L520.35,619.63 L522.73,621.46 L525.11,623.27 L527.50,625.08 L529.90,626.88 L532.30,628.67 L534.71,630.45 L537.12,632.23 L539.53,634.00 L541.95,635.76 L544.38,637.53 L546.80,639.29 L549.23,641.05 L551.66,642.80 L554.09,644.56 L556.52,646.31 L558.95,648.07 L561.38,649.83 L563.80,651.59 L566.23,653.35 L568.65,655.12 L571.07,656.89 L573.48,658.66 L575.89,660.45 L578.30,662.23 L580.70,664.01 L583.12,665.79 L585.53,667.55 L587.96,669.31 L590.39,671.05 L592.84,672.77 L595.30,674.46 L597.79,676.13 L600.29,677.77 L602.81,679.37 L605.35,680.95 L607.91,682.51 L610.48,684.04 L613.06,685.56 L615.66,687.05 L618.27,688.53 L620.88,690.00 L623.50,691.46 L626.13,692.91 L628.76,694.36 L631.39,695.81 L634.02,697.26 L636.64,698.71 L639.27,700.16 L641.90,701.61 L644.53,703.06 L647.15,704.51 L649.78,705.96 L652.41,707.41 L655.04,708.86 L657.67,710.31 L660.30,711.75 L662.93,713.19 L665.56,714.63 L668.19,716.07 L670.83,717.50 L673.47,718.93 L676.11,720.35 L678.75,721.77 L681.40,723.18 L684.05,724.58 L686.70,725.98 L689.36,727.38 L692.02,728.76 L694.68,730.14 L697.35,731.51 L700.02,732.87 L702.69,734.22 L705.37,735.56 L708.06,736.90 L710.75,738.22 L713.44,739.54 L716.14,740.84 L718.84,742.14 L721.55,743.43 L724.26,744.71 L726.98,745.98 L729.70,747.24 L732.42,748.50 L735.15,749.74 L737.88,750.98 L740.61,752.20 L743.35,753.42 L746.10,754.63 L748.84,755.83 L751.60,757.03 L754.35,758.21 L757.11,759.38 L759.87,760.55 L762.64,761.71 L765.41,762.86 L768.18,764.00 L770.96,765.13 L773.74,766.25 L776.53,767.36 L779.31,768.47 L782.11,769.57 L784.90,770.66 L787.70,771.74 L790.50,772.81 L793.31,773.87 L796.11,774.93 L798.93,775.97 L801.74,777.01 L804.56,778.04 L807.38,779.06 L810.20,780.07 L813.03,781.08 L815.86,782.07 L818.69,783.06 L821.53,784.04 L824.37,785.01 L827.21,785.98 L830.06,786.93 L832.90,787.88 L835.75,788.81 L838.61,789.74 L841.46,790.67 L844.32,791.58 L847.18,792.49 L850.05,793.38 L850.11,800.22 L847.21,799.46 L844.33,798.68 L841.45,797.89 L838.57,797.08 L835.70,796.26 L832.83,795.42 L829.97,794.57 L827.12,793.70 L824.27,792.82 L821.42,791.93 L818.58,791.02 L815.75,790.10 L812.92,789.17 L810.09,788.22 L807.27,787.26 L804.46,786.29 L801.65,785.30 L798.84,784.30 L796.04,783.29 L793.24,782.27 L790.45,781.24 L787.66,780.19 L784.88,779.14 L782.10,778.07 L779.33,776.99 L776.56,775.90 L773.79,774.80 L771.03,773.69 L768.27,772.57 L765.51,771.44 L762.76,770.30 L760.02,769.15 L757.27,767.99 L754.54,766.82 L751.80,765.64 L749.07,764.45 L746.34,763.25 L743.62,762.05 L740.90,760.84 L738.18,759.62 L735.46,758.39 L732.75,757.15 L730.05,755.91 L727.34,754.65 L724.64,753.39 L721.94,752.13 L719.25,750.86 L716.55,749.58 L713.87,748.29 L711.18,747.00 L708.50,745.70 L705.82,744.40 L703.14,743.09 L700.46,741.77 L697.79,740.45 L695.12,739.13 L692.45,737.79 L689.79,736.46 L687.13,735.11 L684.47,733.77 L681.81,732.41 L679.16,731.05 L676.51,729.69 L673.87,728.31 L671.23,726.93 L668.59,725.55 L665.95,724.16 L663.32,722.76 L660.70,721.35 L658.07,719.94 L655.45,718.52 L652.84,717.10 L650.23,715.66 L647.62,714.22 L645.02,712.78 L642.42,711.32 L639.83,709.86 L637.24,708.39 L634.66,706.91 L632.08,705.42 L629.50,703.93 L626.93,702.42 L624.37,700.91 L621.81,699.39 L619.26,697.86 L616.71,696.33 L614.16,694.78 L611.63,693.23 L609.10,691.66 L606.57,690.09 L604.05,688.51 L601.53,686.92 L599.03,685.32 L596.52,683.71 L594.03,682.09 L591.54,680.46 L589.05,678.82 L586.58,677.17 L584.10,675.51 L581.64,673.84 L579.18,672.16 L576.73,670.47 L574.29,668.77 L571.85,667.07 L569.41,665.35 L566.98,663.63 L564.55,661.91 L562.11,660.19 L559.67,658.48 L557.23,656.76 L554.78,655.06 L552.32,653.37 L549.86,651.68 L547.40,649.99 L544.96,648.28 L542.53,646.56 L540.13,644.81 L537.76,643.02 L535.43,641.19 L533.16,639.31 L530.93,637.38 L528.75,635.40 L526.60,633.38 L524.47,631.34 L522.35,629.28 L520.24,627.22 L518.12,625.17 L515.98,623.13 L513.81,621.12 L511.63,619.12 L509.42,617.15 L507.19,615.19 L504.95,613.25 L502.69,611.33 L500.41,609.42 L498.12,607.52 L495.82,605.63 L493.51,603.75 L491.19,601.88 L488.86,600.01 L486.53,598.15 L484.19,596.29 L481.85,594.43 L479.51,592.58 L477.17,590.72 L474.83,588.86 L472.50,587.00 L470.17,585.13 L467.84,583.26 L465.52,581.37 L463.22,579.48 L460.92,577.58 L458.64,575.66 L456.36,573.73 L454.10,571.79 L451.85,569.83 L449.62,567.87 L447.39,565.90 L445.17,563.91 L442.96,561.92 L440.76,559.92 L438.56,557.91 L436.38,555.89 L434.20,553.86 L432.03,551.83 L429.86,549.79 L427.70,547.75 L425.54,545.70 L423.39,543.65 L421.24,541.59 L419.09,539.53 L416.95,537.47 L414.81,535.41 L412.67,533.34 L410.53,531.27 L408.39,529.21 L406.25,527.14 L404.11,525.07 L401.97,523.00 L399.83,520.94 L397.68,518.88 L395.53,516.82 L393.38,514.76 L391.22,512.71 L389.06,510.66 L386.90,508.62 L384.73,506.58 L382.55,504.55 L380.37,502.53 L378.18,500.51 L375.98,498.50 L373.77,496.50 L371.55,494.51 L369.33,492.52 L367.09,490.55 L364.85,488.59 L362.59,486.63 L360.32,484.69 L358.04,482.76 L355.75,480.85 L353.44,478.95 L351.12,477.06 L348.79,475.18 L346.44,473.32 L344.07,471.48 L341.69,469.65 L339.29,467.85 L336.86,466.09 L334.41,464.37 L331.92,462.70 L329.40,461.10 L326.83,459.57 L324.23,458.12 L321.57,456.76 L318.86,455.50 L316.10,454.35 L313.28,453.32 L310.41,452.42 L307.50,451.65 L304.56,451.03 L301.61,450.58 L298.66,450.29 L295.72,450.18 L292.80,450.26 L289.92,450.55 L287.10,451.05 L284.33,451.77 L281.64,452.72 L279.04,453.92 L276.54,455.36 L274.13,457.02 L271.83,458.88 L269.62,460.92 L267.50,463.11 L265.49,465.42 L263.57,467.84 L261.75,470.34 L260.03,472.90 L258.41,475.49 L256.88,478.12 L255.43,480.77 L254.07,483.45 L252.78,486.15 L251.57,488.88 L250.42,491.63 L249.34,494.40 L248.31,497.19 L247.32,499.99 L246.39,502.80 L245.50,505.63 L244.64,508.47 L243.81,511.32 L243.00,514.17 L242.22,517.03 L241.45,519.90 L240.71,522.77 L239.99,525.64 L239.29,528.53 L238.61,531.41 L237.95,534.30 L237.31,537.20 L236.69,540.10 L236.08,543.01 L235.50,545.91 L234.92,548.83 L234.37,551.75 L233.83,554.67 L233.31,557.59 L232.80,560.52 L232.31,563.46 L231.83,566.39 L231.36,569.33 L230.91,572.27 L230.46,575.22 L230.04,578.17 L229.62,581.12 L229.21,584.07 L228.82,587.02 L228.43,589.98 L228.06,592.94 L227.69,595.90 L227.33,598.87 L226.99,601.83 L226.64,604.80 L226.31,607.76 L225.98,610.73 L225.66,613.70 L225.35,616.67 L225.04,619.65 L224.73,622.62 L224.43,625.59 L224.14,628.56 L223.84,631.54 L223.55,634.51 L223.27,637.48 L222.98,640.46 L222.70,643.43 L222.42,646.40 L222.14,649.37 L221.86,652.34 L221.58,655.32 L221.31,658.29 L221.04,661.26 L220.77,664.23 L220.50,667.20 L220.24,670.17 L219.97,673.15 L219.71,676.12 L219.45,679.09 L219.19,682.06 L218.93,685.03 L218.68,688.00 L218.42,690.97 L218.17,693.94 L217.92,696.91 L217.67,699.88 L217.42,702.85 L217.17,705.82 L216.93,708.79 L216.68,711.76 L216.44,714.73 L216.20,717.70 L215.96,720.67 L215.72,723.63 L215.48,726.60 L215.24,729.57 L215.00,732.54 L214.77,735.51 L214.53,738.48 L214.30,741.45 L214.07,744.42 L213.83,747.39 L213.60,750.36 L213.37,753.32 L213.14,756.29 L212.91,759.26 L212.68,762.23 L212.45,765.20 L212.23,768.17 L212.00,771.14 L211.77,774.11 L211.55,777.07 L211.32,780.04 L211.10,783.01 L210.87,785.98 L210.65,788.95 L210.42,791.92 L210.20,794.89 L209.97,797.86 L209.75,800.82 L209.53,803.79 L209.30,806.76 L209.08,809.73 L208.85,812.70 L208.63,815.67 L208.41,818.64 L208.18,821.61 L207.96,824.58 L207.74,827.55 L207.51,830.52 L207.29,833.49 L207.06,836.46 L206.84,839.43 L206.61,842.40 L206.39,845.37 L206.16,848.34 L205.93,851.31 L205.70,854.28 L205.48,857.25 L205.25,860.22 L205.02,863.19 L204.79,866.16 L204.56,869.13 L204.33,872.10 L204.10,875.07 L203.86,878.05 L203.63,881.02 L203.39,883.99 L203.16,886.96 L202.92,889.93 L202.68,892.91 L202.45,895.88 L202.21,898.85 L201.97,901.82 L201.72,904.80 L201.48,907.77 L201.24,910.74 L200.99,913.72 L200.74,916.69 L200.50,919.67 L200.25,922.64 L200.00,925.62 L199.74,928.59 L199.49,931.57 L199.24,934.54 L198.98,937.52 L198.72,940.49 L198.46,943.47 L198.20,946.45 Z" fill="url(#hb)"/>
<path d="M198.15,946.41 L198.42,943.42 L198.70,940.43 L198.97,937.45 L199.24,934.46 L199.50,931.47 L199.77,928.48 L200.03,925.49 L200.29,922.50 L200.55,919.51 L200.80,916.52 L201.06,913.53 L201.31,910.54 L201.56,907.55 L201.81,904.56 L202.06,901.57 L202.30,898.58 L202.55,895.59 L202.79,892.61 L203.03,889.62 L203.27,886.63 L203.51,883.64 L203.75,880.64 L203.98,877.65 L204.22,874.66 L204.45,871.67 L204.68,868.68 L204.91,865.69 L205.14,862.70 L205.37,859.71 L205.60,856.72 L205.82,853.73 L206.05,850.74 L206.27,847.75 L206.50,844.76 L206.72,841.77 L206.94,838.78 L207.16,835.79 L207.38,832.80 L207.60,829.81 L207.82,826.81 L208.04,823.82 L208.26,820.83 L208.48,817.84 L208.70,814.85 L208.91,811.86 L209.13,808.87 L209.35,805.88 L209.57,802.89 L209.78,799.90 L210.00,796.90 L210.22,793.91 L210.43,790.92 L210.65,787.93 L210.87,784.94 L211.08,781.95 L211.30,778.96 L211.52,775.97 L211.74,772.98 L211.95,769.99 L212.17,767.00 L212.39,764.00 L212.61,761.01 L212.83,758.02 L213.05,755.03 L213.27,752.04 L213.49,749.05 L213.72,746.06 L213.94,743.07 L214.16,740.08 L214.39,737.09 L214.61,734.10 L214.84,731.11 L215.07,728.12 L215.29,725.13 L215.52,722.14 L215.75,719.15 L215.99,716.16 L216.22,713.16 L216.45,710.17 L216.69,707.18 L216.93,704.19 L217.16,701.20 L217.40,698.21 L217.65,695.23 L217.89,692.24 L218.13,689.25 L218.38,686.26 L218.63,683.27 L218.88,680.28 L219.13,677.29 L219.38,674.30 L219.63,671.31 L219.89,668.32 L220.15,665.33 L220.41,662.34 L220.67,659.35 L220.94,656.37 L221.21,653.38 L221.47,650.39 L221.75,647.40 L222.02,644.41 L222.29,641.42 L222.57,638.44 L222.85,635.45 L223.14,632.46 L223.42,629.47 L223.71,626.48 L224.01,623.50 L224.30,620.51 L224.61,617.53 L224.92,614.54 L225.23,611.56 L225.55,608.57 L225.88,605.59 L226.21,602.61 L226.55,599.63 L226.90,596.65 L227.25,593.67 L227.62,590.70 L227.99,587.72 L228.38,584.75 L228.77,581.78 L229.18,578.81 L229.59,575.84 L230.02,572.87 L230.46,569.91 L230.91,566.95 L231.37,563.99 L231.85,561.03 L232.34,558.08 L232.84,555.12 L233.36,552.17 L233.90,549.23 L234.44,546.28 L235.01,543.34 L235.59,540.40 L236.19,537.47 L236.80,534.53 L237.43,531.61 L238.08,528.68 L238.75,525.76 L239.43,522.84 L240.14,519.92 L240.87,517.01 L241.61,514.10 L242.38,511.20 L243.17,508.30 L243.98,505.41 L244.82,502.52 L245.70,499.65 L246.61,496.79 L247.56,493.94 L248.55,491.11 L249.60,488.30 L250.69,485.51 L251.83,482.74 L253.03,480.00 L254.30,477.29 L255.62,474.60 L257.02,471.94 L258.49,469.32 L260.03,466.73 L261.65,464.18 L263.35,461.66 L265.14,459.19 L267.01,456.78 L268.99,454.44 L271.06,452.23 L273.25,450.17 L275.56,448.29 L277.99,446.63 L280.55,445.22 L283.24,444.08 L286.03,443.18 L288.91,442.53 L291.84,442.10 L294.82,441.89 L297.81,441.88 L300.80,442.06 L303.76,442.41 L306.69,442.94 L309.59,443.61 L312.46,444.43 L315.30,445.39 L318.10,446.46 L320.87,447.65 L323.60,448.95 L326.31,450.33 L328.97,451.79 L331.60,453.32 L334.19,454.91 L336.75,456.55 L339.27,458.23 L341.76,459.94 L344.21,461.69 L346.63,463.47 L349.02,465.28 L351.39,467.12 L353.73,468.98 L356.04,470.87 L358.34,472.79 L360.61,474.72 L362.87,476.67 L365.11,478.64 L367.34,480.63 L369.56,482.62 L371.77,484.63 L373.96,486.65 L376.16,488.68 L378.35,490.71 L380.53,492.75 L382.72,494.79 L384.90,496.83 L387.08,498.88 L389.26,500.93 L391.43,502.98 L393.61,505.04 L395.78,507.10 L397.95,509.16 L400.13,511.23 L402.30,513.29 L404.47,515.36 L406.64,517.43 L408.81,519.50 L410.97,521.57 L413.14,523.64 L415.31,525.71 L417.48,527.79 L419.65,529.86 L421.82,531.93 L423.99,534.01 L426.16,536.08 L428.33,538.15 L430.51,540.22 L432.68,542.29 L434.86,544.36 L437.04,546.43 L439.22,548.49 L441.40,550.56 L443.58,552.62 L445.77,554.68 L447.96,556.73 L450.15,558.79 L452.34,560.84 L454.54,562.88 L456.74,564.93 L458.94,566.96 L461.15,569.00 L463.35,571.03 L465.57,573.06 L467.78,575.08 L470.01,577.10 L472.23,579.11 L474.46,581.11 L476.70,583.11 L478.94,585.11 L481.18,587.10 L483.43,589.08 L485.69,591.05 L487.95,593.02 L490.22,594.98 L492.50,596.93 L494.78,598.87 L497.06,600.80 L499.36,602.73 L501.66,604.65 L503.97,606.56 L506.29,608.45 L508.61,610.34 L510.94,612.22 L513.28,614.09 L515.63,615.95 L517.99,617.79 L520.35,619.63 L522.73,621.46 L525.11,623.27 L527.50,625.08 L529.90,626.88 L532.30,628.67 L534.71,630.45 L537.12,632.23 L539.53,634.00 L541.95,635.76 L544.38,637.53 L546.80,639.29 L549.23,641.05 L551.66,642.80 L554.09,644.56 L556.52,646.31 L558.95,648.07 L561.38,649.83 L563.80,651.59 L566.23,653.35 L568.65,655.12 L571.07,656.89 L573.48,658.66 L575.89,660.45 L578.30,662.23 L580.70,664.01 L583.12,665.79 L585.53,667.55 L587.96,669.31 L590.39,671.05 L592.84,672.77 L595.30,674.46 L597.79,676.13 L600.29,677.77 L602.81,679.37 L605.35,680.95 L607.91,682.51 L610.48,684.04 L613.06,685.56 L615.66,687.05 L618.27,688.53 L620.88,690.00 L623.50,691.46 L626.13,692.91 L628.76,694.36 L631.39,695.81 L634.02,697.26 L636.64,698.71 L639.27,700.16 L641.90,701.61 L644.53,703.06 L647.15,704.51 L649.78,705.96 L652.41,707.41 L655.04,708.86 L657.67,710.31 L660.30,711.75 L662.93,713.19 L665.56,714.63 L668.19,716.07 L670.83,717.50 L673.47,718.93 L676.11,720.35 L678.75,721.77 L681.40,723.18 L684.05,724.58 L686.70,725.98 L689.36,727.38 L692.02,728.76 L694.68,730.14 L697.35,731.51 L700.02,732.87 L702.69,734.22 L705.37,735.56 L708.06,736.90 L710.75,738.22 L713.44,739.54 L716.14,740.84 L718.84,742.14 L721.55,743.43 L724.26,744.71 L726.98,745.98 L729.70,747.24 L732.42,748.50 L735.15,749.74 L737.88,750.98 L740.61,752.20 L743.35,753.42 L746.10,754.63 L748.84,755.83 L751.60,757.03 L754.35,758.21 L757.11,759.38 L759.87,760.55 L762.64,761.71 L765.41,762.86 L768.18,764.00 L770.96,765.13 L773.74,766.25 L776.53,767.36 L779.31,768.47 L782.11,769.57 L784.90,770.66 L787.70,771.74 L790.50,772.81 L793.31,773.87 L796.11,774.93 L798.93,775.97 L801.74,777.01 L804.56,778.04 L807.38,779.06 L810.20,780.07 L813.03,781.08 L815.86,782.07 L818.69,783.06 L821.53,784.04 L824.37,785.01 L827.21,785.98 L830.06,786.93 L832.90,787.88 L835.75,788.81 L838.61,789.74 L841.46,790.67 L844.32,791.58 L847.18,792.49 L850.05,793.38" fill="none" stroke="#0000ff" stroke-width="4.5" stroke-linejoin="round"/>
<path d="M198.20,946.45 L198.46,943.47 L198.72,940.49 L198.98,937.52 L199.24,934.54 L199.49,931.57 L199.74,928.59 L200.00,925.62 L200.25,922.64 L200.50,919.67 L200.74,916.69 L200.99,913.72 L201.24,910.74 L201.48,907.77 L201.72,904.80 L201.97,901.82 L202.21,898.85 L202.45,895.88 L202.68,892.91 L202.92,889.93 L203.16,886.96 L203.39,883.99 L203.63,881.02 L203.86,878.05 L204.10,875.07 L204.33,872.10 L204.56,869.13 L204.79,866.16 L205.02,863.19 L205.25,860.22 L205.48,857.25 L205.70,854.28 L205.93,851.31 L206.16,848.34 L206.39,845.37 L206.61,842.40 L206.84,839.43 L207.06,836.46 L207.29,833.49 L207.51,830.52 L207.74,827.55 L207.96,824.58 L208.18,821.61 L208.41,818.64 L208.63,815.67 L208.85,812.70 L209.08,809.73 L209.30,806.76 L209.53,803.79 L209.75,800.82 L209.97,797.86 L210.20,794.89 L210.42,791.92 L210.65,788.95 L210.87,785.98 L211.10,783.01 L211.32,780.04 L211.55,777.07 L211.77,774.11 L212.00,771.14 L212.23,768.17 L212.45,765.20 L212.68,762.23 L212.91,759.26 L213.14,756.29 L213.37,753.32 L213.60,750.36 L213.83,747.39 L214.07,744.42 L214.30,741.45 L214.53,738.48 L214.77,735.51 L215.00,732.54 L215.24,729.57 L215.48,726.60 L215.72,723.63 L215.96,720.67 L216.20,717.70 L216.44,714.73 L216.68,711.76 L216.93,708.79 L217.17,705.82 L217.42,702.85 L217.67,699.88 L217.92,696.91 L218.17,693.94 L218.42,690.97 L218.68,688.00 L218.93,685.03 L219.19,682.06 L219.45,679.09 L219.71,676.12 L219.97,673.15 L220.24,670.17 L220.50,667.20 L220.77,664.23 L221.04,661.26 L221.31,658.29 L221.58,655.32 L221.86,652.34 L222.14,649.37 L222.42,646.40 L222.70,643.43 L222.98,640.46 L223.27,637.48 L223.55,634.51 L223.84,631.54 L224.14,628.56 L224.43,625.59 L224.73,622.62 L225.04,619.65 L225.35,616.67 L225.66,613.70 L225.98,610.73 L226.31,607.76 L226.64,604.80 L226.99,601.83 L227.33,598.87 L227.69,595.90 L228.06,592.94 L228.43,589.98 L228.82,587.02 L229.21,584.07 L229.62,581.12 L230.04,578.17 L230.46,575.22 L230.91,572.27 L231.36,569.33 L231.83,566.39 L232.31,563.46 L232.80,560.52 L233.31,557.59 L233.83,554.67 L234.37,551.75 L234.92,548.83 L235.50,545.91 L236.08,543.01 L236.69,540.10 L237.31,537.20 L237.95,534.30 L238.61,531.41 L239.29,528.53 L239.99,525.64 L240.71,522.77 L241.45,519.90 L242.22,517.03 L243.00,514.17 L243.81,511.32 L244.64,508.47 L245.50,505.63 L246.39,502.80 L247.32,499.99 L248.31,497.19 L249.34,494.40 L250.42,491.63 L251.57,488.88 L252.78,486.15 L254.07,483.45 L255.43,480.77 L256.88,478.12 L258.41,475.49 L260.03,472.90 L261.75,470.34 L263.57,467.84 L265.49,465.42 L267.50,463.11 L269.62,460.92 L271.83,458.88 L274.13,457.02 L276.54,455.36 L279.04,453.92 L281.64,452.72 L284.33,451.77 L287.10,451.05 L289.92,450.55 L292.80,450.26 L295.72,450.18 L298.66,450.29 L301.61,450.58 L304.56,451.03 L307.50,451.65 L310.41,452.42 L313.28,453.32 L316.10,454.35 L318.86,455.50 L321.57,456.76 L324.23,458.12 L326.83,459.57 L329.40,461.10 L331.92,462.70 L334.41,464.37 L336.86,466.09 L339.29,467.85 L341.69,469.65 L344.07,471.48 L346.44,473.32 L348.79,475.18 L351.12,477.06 L353.44,478.95 L355.75,480.85 L358.04,482.76 L360.32,484.69 L362.59,486.63 L364.85,488.59 L367.09,490.55 L369.33,492.52 L371.55,494.51 L373.77,496.50 L375.98,498.50 L378.18,500.51 L380.37,502.53 L382.55,504.55 L384.73,506.58 L386.90,508.62 L389.06,510.66 L391.22,512.71 L393.38,514.76 L395.53,516.82 L397.68,518.88 L399.83,520.94 L401.97,523.00 L404.11,525.07 L406.25,527.14 L408.39,529.21 L410.53,531.27 L412.67,533.34 L414.81,535.41 L416.95,537.47 L419.09,539.53 L421.24,541.59 L423.39,543.65 L425.54,545.70 L427.70,547.75 L429.86,549.79 L432.03,551.83 L434.20,553.86 L436.38,555.89 L438.56,557.91 L440.76,559.92 L442.96,561.92 L445.17,563.91 L447.39,565.90 L449.62,567.87 L451.85,569.83 L454.10,571.79 L456.36,573.73 L458.64,575.66 L460.92,577.58 L463.22,579.48 L465.52,581.37 L467.84,583.26 L470.17,585.13 L472.50,587.00 L474.83,588.86 L477.17,590.72 L479.51,592.58 L481.85,594.43 L484.19,596.29 L486.53,598.15 L488.86,600.01 L491.19,601.88 L493.51,603.75 L495.82,605.63 L498.12,607.52 L500.41,609.42 L502.69,611.33 L504.95,613.25 L507.19,615.19 L509.42,617.15 L511.63,619.12 L513.81,621.12 L515.98,623.13 L518.12,625.17 L520.24,627.22 L522.35,629.28 L524.47,631.34 L526.60,633.38 L528.75,635.40 L530.93,637.38 L533.16,639.31 L535.43,641.19 L537.76,643.02 L540.13,644.81 L542.53,646.56 L544.96,648.28 L547.40,649.99 L549.86,651.68 L552.32,653.37 L554.78,655.06 L557.23,656.76 L559.67,658.48 L562.11,660.19 L564.55,661.91 L566.98,663.63 L569.41,665.35 L571.85,667.07 L574.29,668.77 L576.73,670.47 L579.18,672.16 L581.64,673.84 L584.10,675.51 L586.58,677.17 L589.05,678.82 L591.54,680.46 L594.03,682.09 L596.52,683.71 L599.03,685.32 L601.53,686.92 L604.05,688.51 L606.57,690.09 L609.10,691.66 L611.63,693.23 L614.16,694.78 L616.71,696.33 L619.26,697.86 L621.81,699.39 L624.37,700.91 L626.93,702.42 L629.50,703.93 L632.08,705.42 L634.66,706.91 L637.24,708.39 L639.83,709.86 L642.42,711.32 L645.02,712.78 L647.62,714.22 L650.23,715.66 L652.84,717.10 L655.45,718.52 L658.07,719.94 L660.70,721.35 L663.32,722.76 L665.95,724.16 L668.59,725.55 L671.23,726.93 L673.87,728.31 L676.51,729.69 L679.16,731.05 L681.81,732.41 L684.47,733.77 L687.13,735.11 L689.79,736.46 L692.45,737.79 L695.12,739.13 L697.79,740.45 L700.46,741.77 L703.14,743.09 L705.82,744.40 L708.50,745.70 L711.18,747.00 L713.87,748.29 L716.55,749.58 L719.25,750.86 L721.94,752.13 L724.64,753.39 L727.34,754.65 L730.05,755.91 L732.75,757.15 L735.46,758.39 L738.18,759.62 L740.90,760.84 L743.62,762.05 L746.34,763.25 L749.07,764.45 L751.80,765.64 L754.54,766.82 L757.27,767.99 L760.02,769.15 L762.76,770.30 L765.51,771.44 L768.27,772.57 L771.03,773.69 L773.79,774.80 L776.56,775.90 L779.33,776.99 L782.10,778.07 L784.88,779.14 L787.66,780.19 L790.45,781.24 L793.24,782.27 L796.04,783.29 L798.84,784.30 L801.65,785.30 L804.46,786.29 L807.27,787.26 L810.09,788.22 L812.92,789.17 L815.75,790.10 L818.58,791.02 L821.42,791.93 L824.27,792.82 L827.12,793.70 L829.97,794.57 L832.83,795.42 L835.70,796.26 L838.57,797.08 L841.45,797.89 L844.33,798.68 L847.21,799.46 L850.11,800.22" fill="none" stroke="#0000ff" stroke-width="4.5" stroke-linejoin="round"/>
</g>
<g font-size="35.4" fill="#000">
<g transform="translate(180.7,956.30) scale(1,1.022)"><text x="0" y="0" text-anchor="end">0</text></g>
<g transform="translate(180.7,845.08) scale(1,1.022)"><text x="0" y="0" text-anchor="end">30</text></g>
<g transform="translate(180.7,733.86) scale(1,1.022)"><text x="0" y="0" text-anchor="end">60</text></g>
<g transform="translate(180.7,622.64) scale(1,1.022)"><text x="0" y="0" text-anchor="end">90</text></g>
<g transform="translate(180.7,511.42) scale(1,1.022)"><path d="M763 0H583V1147Q518 1085 412.5 1023T223 930V1104Q374 1175 487 1276T647 1472H763Z" transform="translate(-59.07,0) scale(0.01729,-0.01729)"/><text x="0" y="0" text-anchor="end">20</text></g>
<g transform="translate(180.7,400.20) scale(1,1.022)"><path d="M763 0H583V1147Q518 1085 412.5 1023T223 930V1104Q374 1175 487 1276T647 1472H763Z" transform="translate(-59.07,0) scale(0.01729,-0.01729)"/><text x="0" y="0" text-anchor="end">50</text></g>
<g transform="translate(323.43,986.4) scale(1,1.04)"><text x="0" y="0" text-anchor="middle">200</text></g>
<g transform="translate(637.85,986.4) scale(1,1.04)"><text x="0" y="0" text-anchor="middle">250</text></g>
</g>
<text x="500.9" y="1053.6" font-size="42.4" fill="#000">M [GeV]</text>
<text transform="translate(105.2,868.6) rotate(-90)" font-size="42.5" fill="#000">σ</text>
<text transform="translate(105.2,843.2) rotate(-90)" font-size="42.5" fill="#000">(p</text>
<text transform="translate(90.1,805.3) rotate(-90)" font-size="26" fill="#000">veto</text>
<text transform="translate(115.5,805.3) rotate(-90)" font-size="26" fill="#000">T</text>
<text transform="translate(105.2,756.2) rotate(-90)" font-size="42.5" fill="#000">)/dM [fb/GeV]</text>
<line x1="754.00" y1="446.30" x2="766.00" y2="458.30" stroke="#ff0000" stroke-width="4.35" stroke-linecap="round"/>
<line x1="755.00" y1="431.70" x2="781.60" y2="458.30" stroke="#ff0000" stroke-width="4.35" stroke-linecap="round"/>
<line x1="770.60" y1="431.70" x2="797.20" y2="458.30" stroke="#ff0000" stroke-width="4.35" stroke-linecap="round"/>
<line x1="786.20" y1="431.70" x2="812.80" y2="458.30" stroke="#ff0000" stroke-width="4.35" stroke-linecap="round"/>
<line x1="801.80" y1="431.70" x2="813.70" y2="443.60" stroke="#ff0000" stroke-width="4.35" stroke-linecap="round"/>
<line x1="754.00" y1="482.30" x2="766.10" y2="494.40" stroke="#0000ff" stroke-width="4.35" stroke-linecap="round"/>
<line x1="755.00" y1="467.70" x2="781.70" y2="494.40" stroke="#0000ff" stroke-width="4.35" stroke-linecap="round"/>
<line x1="770.60" y1="467.70" x2="797.30" y2="494.40" stroke="#0000ff" stroke-width="4.35" stroke-linecap="round"/>
<line x1="786.20" y1="467.70" x2="812.90" y2="494.40" stroke="#0000ff" stroke-width="4.35" stroke-linecap="round"/>
<line x1="801.80" y1="467.70" x2="813.70" y2="479.60" stroke="#0000ff" stroke-width="4.35" stroke-linecap="round"/>
<g fill="none" stroke="#222" stroke-width="1.3">
<path d="M840,421 H737.6 V497.8 H840" stroke="#555" stroke-width="1.1"/>
<rect x="751.9" y="429.6" width="63.9" height="30.8"/>
<rect x="751.9" y="465.6" width="63.9" height="31"/>
</g>
<rect x="827.2" y="434.2" width="3" height="20.6" fill="#000"/>
<rect x="827.2" y="470.1" width="3" height="20.6" fill="#000"/>
</svg>
</body></html>
